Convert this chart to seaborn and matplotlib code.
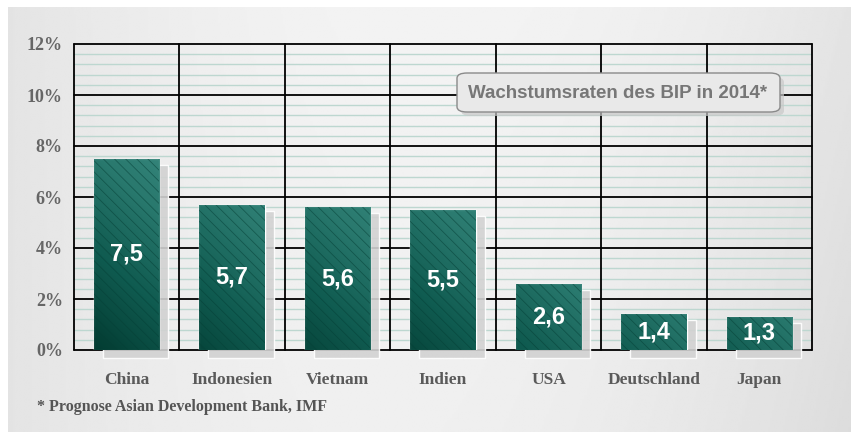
import numpy as np
import pandas as pd
import matplotlib.pyplot as plt
import seaborn as sns
from matplotlib.colors import LinearSegmentedColormap
from matplotlib.patches import FancyBboxPatch, Rectangle

# Daten
laender = ["China", "Indonesien", "Vietnam", "Indien", "USA", "Deutschland", "Japan"]
wachstum = [7.5, 5.7, 5.6, 5.5, 2.6, 1.4, 1.3]
wert_labels = ["7,5", "5,7", "5,6", "5,5", "2,6", "1,4", "1,3"]
y_ticks = [0, 2, 4, 6, 8, 10, 12]
y_labels = ["0%", "2%", "4%", "6%", "8%", "10%", "12%"]
titel = "Wachstumsraten des BIP in 2014*"
fussnote = "* Prognose Asian Development Bank, IMF"

df = pd.DataFrame({"Land": laender, "Wachstum": wachstum})

sns.set_style("white")
plt.rcParams["font.family"] = ["Liberation Sans", "DejaVu Sans"]
plt.rcParams["hatch.linewidth"] = 0.6

W, H = 851, 432
fig = plt.figure(figsize=(W / 100, H / 100), dpi=100)
fig.patch.set_facecolor("white")

# grauer Hintergrund mit leichtem Verlauf
bg = fig.add_axes([8 / W, 0, 1 - 8 / W, 1 - 7 / H])
bg.axis("off")
X, Y = np.meshgrid(np.linspace(0, 1, 400), np.linspace(0, 1, 200))
shade = 0.953 - 0.24 * (X - 0.5) ** 2 - 0.03 * Y * X
bg.imshow(shade, cmap="gray", vmin=0, vmax=1, aspect="auto", interpolation="bilinear")

# Plotbereich
ax = fig.add_axes([74 / W, 1 - 350 / H, 738 / W, 306 / H])
ax.patch.set_alpha(0)

# Gitter
for v in np.arange(0.4, 12, 0.4):
    if abs(v / 2 - round(v / 2)) > 1e-6:
        ax.axhline(v, color="#bdd7d0", lw=1.0, zorder=0)
for v in y_ticks:
    ax.axhline(v, color="black", lw=1.3, zorder=1, clip_on=False)
for b in np.arange(-0.5, len(laender)):
    ax.axvline(b, color="black", lw=1.3, zorder=1, clip_on=False)

# Schatten
x = np.arange(len(laender))
ax.bar(x + 0.085, np.array(wachstum) - 0.24 + 0.3, bottom=-0.3, width=0.62,
       color="#d2d2d2", alpha=0.9, zorder=2, clip_on=False)

# Balken
sns.barplot(data=df, x="Land", y="Wachstum", ax=ax, width=0.62,
            color="#1d6b60", saturation=1, zorder=3)

cmap = LinearSegmentedColormap.from_list("gr", ["#01392f", "#0f5a4f", "#2a7a6f", "#3f8f85"])
gx, gy = np.meshgrid(np.linspace(0, 1, 60), np.linspace(0, 1, 120))
for p in list(ax.patches)[len(laender):]:
    x0, y0 = p.get_x(), p.get_y()
    w, h = p.get_width(), p.get_height()
    frac = min(1.0, h / 7.5)
    grad = np.clip(0.2 * gx + (1 - frac) * 0.45 + 0.65 * frac * gy, 0, 1)
    im = ax.imshow(grad, cmap=cmap, vmin=0, vmax=1, extent=[x0, x0 + w, y0, y0 + h],
                   origin="lower", aspect="auto", zorder=3.5, alpha=0.94)
    im.set_clip_path(p)
    ax.add_patch(Rectangle((x0, y0), w, h, facecolor="none", edgecolor="#053f36",
                           hatch="\\\\\\", lw=0, zorder=3.6, alpha=0.55))

for i, (v, lbl) in enumerate(zip(wachstum, wert_labels)):
    ax.text(i, v / 2, lbl, ha="center", va="center", color="white",
            fontsize=17, fontweight="bold", zorder=5)

ax.set_xlim(-0.5, len(laender) - 0.5)
ax.set_ylim(0, 12)
for s in ax.spines.values():
    s.set_visible(False)

ax.set_yticks(y_ticks)
ax.set_yticklabels(y_labels, family="Liberation Serif", fontweight="bold",
                   fontsize=13, color="#666666")
ax.set_xticks(x)
ax.set_xticklabels(laender, family="Liberation Serif", fontweight="bold",
                   fontsize=12.5, color="#5a5a5a")
ax.set_xticks(np.arange(-0.5, len(laender)), minor=True)
ax.tick_params(axis="x", which="major", length=0, pad=16)
ax.tick_params(axis="x", which="minor", length=11.5, width=1.3, color="black", direction="out")
ax.tick_params(axis="y", length=0, pad=8)
ax.set_xlabel("")
ax.set_ylabel("")

# Titelbox
shadow = FancyBboxPatch((461 / W, 1 - 116 / H), 323 / W, 39 / H,
                        boxstyle="round,pad=0,rounding_size=0.012",
                        transform=fig.transFigure, facecolor="#c8c8c8",
                        edgecolor="none", alpha=0.7, zorder=6)
box = FancyBboxPatch((457 / W, 1 - 112 / H), 323 / W, 39 / H,
                     boxstyle="round,pad=0,rounding_size=0.012",
                     transform=fig.transFigure, facecolor="#e9e9e9",
                     edgecolor="#8a8a8a", lw=1.0, zorder=7)
fig.patches.extend([shadow, box])
fig.text(618 / W, 1 - 93 / H, titel, ha="center", va="center", color="#777777",
         fontsize=13.5, fontweight="bold", zorder=8)

fig.text(37 / W, 1 - 407 / H, fussnote, ha="left", va="center", color="#555555",
         family="Liberation Serif", fontweight="bold", fontsize=11.5)

fig.savefig("out.png", dpi=100)
